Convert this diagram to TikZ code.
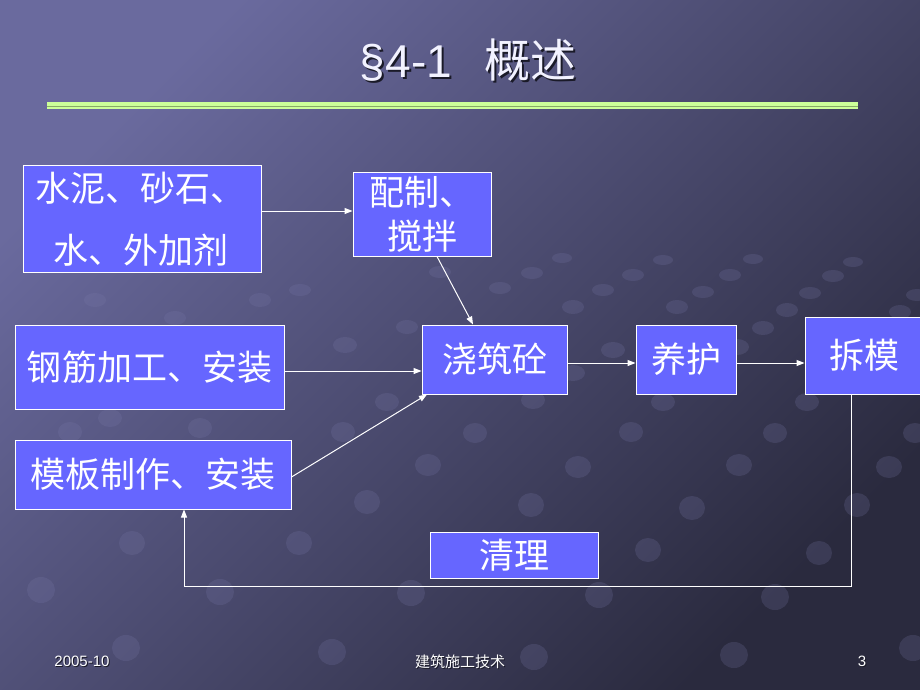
\documentclass[tikz,border=0pt]{standalone}
\usepackage{fontspec}
\setmainfont{Liberation Sans}
\newfontfamily\cjk{Noto Sans CJK SC}
\usetikzlibrary{arrows.meta,calc}
\definecolor{bgA}{HTML}{6A6A9E}
\definecolor{bgB}{HTML}{2A2A3E}
\definecolor{boxc}{HTML}{6666FF}
\definecolor{lineg}{HTML}{CCFF99}
\definecolor{lined}{HTML}{88AA66}
\definecolor{dotc}{HTML}{7A7AAA}
\definecolor{titc}{HTML}{F2F2FF}
\definecolor{shad}{HTML}{1A1A28}
\newcommand{\shadowed}[2]{\makebox[0pt][l]{\hspace{#1}\raisebox{-#1}{\color{shad}#2}}#2}
\begin{document}
\begin{tikzpicture}[x=1pt,y=-1pt,
  box/.style={draw=white, line width=1pt, fill=boxc, text=white,
    font=\cjk\fontsize{35}{42}\selectfont, inner sep=0pt, align=center},
  arr/.style={draw=white, line width=1pt, -{Triangle[length=8pt,width=6pt]}},
  bgdot/.style={fill=dotc, fill opacity=0.22},
  foot/.style={font=\fontsize{15}{18}\selectfont, inner sep=0pt, text=white}]
\useasboundingbox (0,0) rectangle (920,690);
\shade[top color=bgA, bottom color=bgB, shading angle=45] (0,0) rectangle (920,690);
% background dots
\foreach \px/\py/\rx/\ry in {
  562/258/10/5, 663/260/10/5, 753/259/10/5, 853/262/10/5,
  532/273/11/6, 633/275/11/6, 730/275/11/6, 833/276/11/6, 440/272/11/6,
  500/288/11/6, 603/290/11/6, 703/292/11/6, 810/293/11/6, 917/295/11/6,
  573/307/11/7, 677/307/11/7, 787/310/11/7, 900/312/11/7,
  407/327/11/7, 763/328/11/7, 613/350/12/8, 737/347/12/8, 573/373/12/8,
  533/400/12/9, 663/402/12/9, 807/402/12/9, 387/402/12/9,
  70/432/12/10, 200/428/12/10, 343/432/12/10, 475/433/12/10, 631/432/12/10,
  775/433/12/10, 915/433/12/10,
  428/465/13/11, 578/467/13/11, 739/465/13/11, 889/467/13/11,
  367/502/13/12, 531/505/13/12, 692/508/13/12, 857/505/13/12,
  132/543/13/12, 299/543/13/12, 648/550/13/12, 819/553/13/12,
  41/590/14/13, 220/592/14/13, 411/593/14/13, 599/595/14/13, 775/597/14/13,
  126/648/14/13, 332/652/14/13, 534/657/14/13, 734/655/14/13, 913/648/14/13,
  95/300/11/7, 175/318/11/7, 260/300/11/7, 345/345/12/8, 300/290/11/6,
  30/380/12/8, 110/418/12/9}
  \fill[bgdot] (\px,\py) ellipse [x radius=\rx, y radius=\ry];
% title
\node[text=titc, font=\fontsize{46}{50}\selectfont, inner sep=0pt] (title) at (468,61)
  {\shadowed{2pt}{§4-1\hspace{0.7em}{\cjk 概述}}};
% green rule
\fill[lineg] (47,102.5) rectangle (858,109);
\draw[lined, line width=0.8pt] (47,106.5) -- (858,106.5);
% boxes
\node[box, minimum width=238pt, minimum height=107pt, text width=214pt, align=left,
  font=\cjk\fontsize{35}{62}\selectfont] (A) at (142,219) {水泥、砂石、\\\hspace*{18pt}水、外加剂};
\node[box, minimum width=138pt, minimum height=84pt, font=\cjk\fontsize{35}{44}\selectfont] (B) at (422,214) {配制、\\搅拌};
\node[box, minimum width=269pt, minimum height=84pt] (C) at (149.5,367) {钢筋加工、安装};
\node[box, minimum width=145pt, minimum height=69pt] (D) at (494.5,359.5) {浇筑砼};
\node[box, minimum width=100pt, minimum height=69pt] (E) at (686,359.5) {养护};
\node[box, minimum width=118pt, minimum height=77pt] (F) at (864,355.5) {拆模};
\node[box, minimum width=276pt, minimum height=69pt] (G) at (153,474.5) {模板制作、安装};
\node[box, minimum width=168pt, minimum height=46pt] (H) at (514,555) {清理};
% connectors
\draw[arr] (A.east |- 0,211) -- (B.west |- 0,211);
\draw[arr] (437,0 |- B.south) -- (473,0 |- D.north);
\draw[arr] (C.east |- 0,371) -- (D.west |- 0,371);
\draw[arr] (G.east |- 0,477) -- (427,0 |- D.south);
\draw[arr] (D.east |- 0,363) -- (E.west |- 0,363);
\draw[arr] (E.east |- 0,363) -- (F.west |- 0,363);
\draw[arr] (851,0 |- F.south) |- (184,586) -- (184,0 |- G.south);
% footer
\node[foot] (date) at (82,662) {\shadowed{1pt}{2005-10}};
\node[foot] (course) at (460,662) {\shadowed{1pt}{\cjk 建筑施工技术}};
\node[foot] (page) at (862,662) {\shadowed{1pt}{3}};
\end{tikzpicture}
\end{document}
